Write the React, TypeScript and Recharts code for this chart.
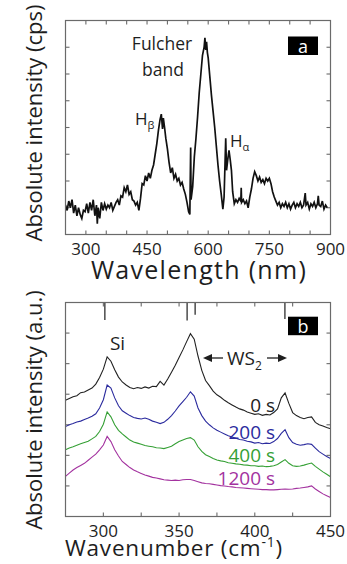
import { Line, LineChart, ReferenceLine, XAxis, YAxis } from "recharts";

// panel a: emission spectrum
const WAVELENGTH = [
  250, 254, 258, 262, 266, 270, 274, 278, 282, 286, 290, 294, 298, 302, 306, 310, 314, 318, 322, 326,
  328, 330, 334, 338, 342, 346, 350, 354, 358, 362, 366, 370, 374, 378, 382, 386, 390, 394, 398, 402,
  406, 410, 414, 418, 422, 426, 430, 434, 438, 442, 446, 450, 454, 458, 462, 466, 470, 474, 478, 482,
  485, 488, 490, 493, 496, 500, 504, 508, 512, 516, 520, 524, 528, 532, 536, 540, 544, 548, 552, 555,
  557, 558, 562, 566, 570, 574, 578, 582, 586, 590, 592, 594, 596, 598, 600, 604, 608, 612, 616, 620,
  624, 628, 632, 636, 639, 643, 645, 648, 651, 654, 657, 660, 664, 668, 672, 676, 680, 681, 682, 686,
  690, 694, 698, 702, 706, 710, 714, 718, 722, 726, 730, 734, 738, 742, 746, 750, 754, 758, 762, 766,
  770, 774, 778, 782, 786, 790, 794, 798, 802, 806, 810, 814, 818, 822, 826, 830, 834, 838, 840, 844,
  848, 852, 856, 860, 864, 868, 870, 872, 876, 880, 884, 888, 892,
];
const CPS = [
  1.1, 0.9, 1.25, 1.0, 1.3, 0.8, 1.1, 0.7, 1.0, 0.75, 0.6, 0.9, 0.85, 1.15, 0.8, 1.2, 0.9, 1.3, 0.7, 1.1,
  0.4, 1.0, 0.6, 1.2, 0.9, 1.15, 0.95, 1.1, 1.0, 1.2, 0.9, 1.05, 1.2, 1.3, 1.1, 1.45, 1.4, 1.75, 1.6, 1.85,
  1.5, 1.6, 1.3, 1.25, 1.1, 1.2, 0.9, 1.35, 1.9, 1.85, 2.2, 2.0, 2.3, 2.1, 2.4, 2.6, 3.0, 3.4, 3.9, 4.3,
  4.5, 3.95, 4.35, 4.0, 3.6, 3.2, 2.7, 2.3, 2.5, 2.1, 2.25, 2.0, 2.1, 1.85, 1.95, 1.7, 1.5, 1.2, 0.85, 0.75,
  3.25, 1.3, 1.8, 2.9, 3.6, 4.4, 5.3, 6.0, 6.7, 7.0, 7.35, 6.9, 7.2, 6.8, 6.6, 5.9, 5.2, 4.6, 4.0, 3.3,
  2.6, 2.0, 1.5, 0.95, 1.4, 3.6, 2.4, 2.8, 3.15, 2.8, 2.4, 1.6, 1.15, 1.3, 1.2, 1.35, 1.25, 1.75, 1.2, 1.3,
  1.15, 1.25, 1.0, 1.4, 1.7, 2.1, 2.35, 2.2, 2.0, 2.15, 1.95, 2.05, 1.9, 2.1, 2.0, 2.1, 1.9, 1.6, 1.4, 1.25,
  1.1, 1.2, 1.0, 1.15, 1.05, 1.2, 1.0, 1.15, 0.95, 1.1, 1.2, 1.0, 1.15, 1.05, 1.2, 1.0, 1.1, 1.55, 1.1, 1.2,
  0.95, 1.15, 1.05, 1.2, 1.0, 1.15, 1.45, 1.1, 1.05, 1.25, 0.95, 1.1, 1.0,
];
const WL_DOMAIN = [250, 900];
const WL_TICKS = [300, 350, 400, 450, 500, 550, 600, 650, 700, 750, 800, 850, 900];
const WL_LABELS = [300, 450, 600, 750, 900];
const CPS_DOMAIN = [0, 8];
const CPS_TICKS = [1, 2, 3, 4, 5, 6, 7];

// panel b: Raman spectra
const WAVENUMBER = [
  275, 277.5, 280, 282.5, 285, 287.5, 290, 292.5, 295, 297.5, 300, 302.5, 305, 307.5, 310, 312.5, 315, 317.5,
  320, 322.5, 325, 327.5, 330, 332.5, 335, 337.5, 340, 342.5, 345, 347.5, 350, 352.5, 355, 357.5, 360, 362.5,
  365, 367.5, 370, 372.5, 375, 377.5, 380, 382.5, 385, 387.5, 390, 392.5, 395, 397.5, 400, 402.5, 405, 407.5,
  410, 412.5, 415, 417.5, 420, 422.5, 425, 427.5, 430, 432.5, 435, 437.5, 440, 442.5, 445, 447.5, 450,
];
const RAMAN_0S = [
  3.8, 3.86, 3.92, 3.95, 4.05, 4.07, 4.14, 4.2, 4.33, 4.55, 4.82, 5.22, 5.08, 4.8, 4.56, 4.4, 4.3, 4.22,
  4.18, 4.22, 4.19, 4.24, 4.2, 4.26, 4.25, 4.42, 4.3, 4.5, 4.72, 4.95, 5.2, 5.45, 5.72, 5.98, 5.8, 5.25,
  4.78, 4.45, 4.28, 4.1, 3.98, 3.9, 3.8, 3.72, 3.65, 3.58, 3.52, 3.48, 3.42, 3.38, 3.34, 3.36, 3.31, 3.34,
  3.32, 3.4, 3.52, 3.88, 4.04, 3.7, 3.4, 3.3, 3.24, 3.2, 3.24, 3.26, 3.08, 3.0, 2.96, 2.91, 2.87,
];
const RAMAN_200S = [
  2.94, 3.0, 3.04, 3.09, 3.12, 3.17, 3.22, 3.28, 3.36, 3.55, 3.82, 4.3, 4.2, 3.88, 3.62, 3.46, 3.38, 3.3,
  3.24, 3.21, 3.19, 3.22, 3.18, 3.12, 3.08, 3.04, 3.08, 3.18, 3.3, 3.45, 3.62, 3.76, 3.9, 4.08, 3.94, 3.55,
  3.3, 3.12, 3.0, 2.9, 2.82, 2.76, 2.7, 2.64, 2.6, 2.56, 2.52, 2.5, 2.46, 2.44, 2.4, 2.42, 2.38, 2.4,
  2.39, 2.45, 2.55, 2.72, 2.84, 2.58, 2.42, 2.36, 2.33, 2.35, 2.38, 2.36, 2.24, 2.12, 2.04, 1.96, 1.9,
];
const RAMAN_400S = [
  2.18, 2.24, 2.28, 2.33, 2.38, 2.42, 2.46, 2.54, 2.62, 2.78, 3.02, 3.42, 3.26, 3.0, 2.82, 2.7, 2.6, 2.5,
  2.44, 2.4, 2.36, 2.32, 2.3, 2.28, 2.25, 2.24, 2.22, 2.26, 2.3, 2.38, 2.45, 2.5, 2.55, 2.58, 2.5, 2.28,
  2.13, 2.02, 1.96, 1.9, 1.85, 1.82, 1.8, 1.76, 1.74, 1.72, 1.71, 1.69, 1.68, 1.66, 1.66, 1.64, 1.65, 1.63,
  1.64, 1.66, 1.7, 1.78, 1.86, 1.74, 1.66, 1.64, 1.65, 1.68, 1.72, 1.75, 1.64, 1.55, 1.46, 1.38, 1.3,
];
const RAMAN_1200S = [
  1.31, 1.42, 1.52, 1.6, 1.67, 1.74, 1.84, 1.94, 2.04, 2.18, 2.34, 2.62, 2.45, 2.18, 1.98, 1.8, 1.7, 1.6,
  1.52, 1.46, 1.41, 1.36, 1.32, 1.28, 1.26, 1.23, 1.2, 1.19, 1.18, 1.19, 1.18, 1.2, 1.21, 1.21, 1.18, 1.14,
  1.1, 1.08, 1.07, 1.05, 1.03, 1.01, 1.0, 0.98, 0.97, 0.95, 0.94, 0.93, 0.92, 0.91, 0.9, 0.89, 0.88, 0.88,
  0.87, 0.87, 0.88, 0.89, 0.9, 0.89, 0.9, 0.92, 0.93, 0.95, 0.97, 1.0, 0.9, 0.82, 0.74, 0.68, 0.62,
];
const SERIES_LABELS = ["0 s", "200 s", "400 s", "1200 s"];
const SERIES_COLORS = ["#222222", "#2b2b9e", "#35a035", "#a3329f"];
const WN_DOMAIN = [275, 450];
const WN_TICKS = [300, 325, 350, 375, 400, 425, 450];
const WN_LABELS = [300, 350, 400, 450];
const RAMAN_DOMAIN = [0, 7];
const RAMAN_TICKS = [1, 2, 3, 4, 5, 6];
// reference peak markers hanging from the top frame
const MARKER_POS = [301, 355.3, 360.6, 419.9];
const MARKER_END = [6.43, 6.41, 6.6, 6.46];

const FONT = "'Open Sans', sans-serif";
const AXIS = "#6a6a6a";
const INK = "#1e1e1e";
const TICK_PX = 4;

const emission = WAVELENGTH.map((x, i) => ({ x, y: CPS[i] }));
const raman = WAVENUMBER.map((x, i) => ({
  x,
  s0: RAMAN_0S[i],
  s200: RAMAN_200S[i],
  s400: RAMAN_400S[i],
  s1200: RAMAN_1200S[i],
}));
const ramanKeys = ["s0", "s200", "s400", "s1200"];

const W = 347;
const H = 282;
// plot box of each panel (same for both): margins below keep it here
const PLOT = { left: 65.5, top: 20.5, w: 265, h: 214 };
const MARGIN = { top: PLOT.top, left: PLOT.left, right: W - PLOT.left - PLOT.w, bottom: H - PLOT.top - PLOT.h - 30 };

function makeTick(labels: number[]) {
  return (p: any) => {
    const v = p.payload.value;
    if (!labels.includes(v)) return <g />;
    return (
      <text x={p.x} y={p.y} dy="0.71em" textAnchor="middle" fontSize={17} fill={INK} fontFamily={FONT}>
        {v}
      </text>
    );
  };
}

// inward ticks on all four sides, drawn through the chart scales
function Ticks({ dx, dy, ticksX, ticksY }: any) {
  const tx = ((dx[1] - dx[0]) * TICK_PX) / PLOT.w;
  const ty = ((dy[1] - dy[0]) * TICK_PX) / PLOT.h;
  const s = { stroke: AXIS, strokeWidth: 1.1, ifOverflow: "visible" as const };
  const seg = (key: string, a: number[], b: number[]) => (
    <ReferenceLine key={key} segment={[{ x: a[0], y: a[1] }, { x: b[0], y: b[1] }]} {...s} />
  );
  const out: any[] = [];
  ticksY.forEach((t: number) => {
    out.push(seg("l" + t, [dx[0], t], [dx[0] + tx, t]));
    out.push(seg("r" + t, [dx[1], t], [dx[1] - tx, t]));
  });
  ticksX.forEach((t: number) => {
    out.push(seg("b" + t, [t, dy[0] + 0.001], [t, dy[0] + ty]));
    out.push(seg("t" + t, [t, dy[1] - 0.001], [t, dy[1] - ty]));
  });
  return out;
}

function Overlay() {
  const t = { fontFamily: FONT, fill: INK };
  return (
    <svg width={W} height={564} style={{ position: "absolute", left: 0, top: 0, pointerEvents: "none" }}>
      {/* plot frames */}
      <rect x={PLOT.left} y={PLOT.top} width={PLOT.w} height={PLOT.h} fill="none" stroke={AXIS} strokeWidth={1.2} />
      <rect x={PLOT.left} y={H + PLOT.top} width={PLOT.w} height={PLOT.h} fill="none" stroke={AXIS} strokeWidth={1.2} />

      {/* panel a */}
      <text {...t} fontSize={22} textAnchor="middle" dominantBaseline="central" transform="translate(33,123) rotate(-90)">
        Absolute intensity (cps)
      </text>
      <text {...t} fontSize={25} letterSpacing={1.3} x={199} y={279} textAnchor="middle">
        Wavelength (nm)
      </text>
      <text {...t} fontSize={17.5} x={162} y={50} textAnchor="middle">Fulcher</text>
      <text {...t} fontSize={17.5} x={163} y={76} textAnchor="middle">band</text>
      <text {...t} fontSize={17} x={135} y={125}>
        H<tspan fontSize={11} dy={4}>β</tspan>
      </text>
      <text {...t} fontSize={17} x={230} y={147}>
        H<tspan fontSize={11} dy={4}>α</tspan>
      </text>
      <rect x={288} y={36.5} width={30} height={18.5} fill="#000" />
      <text fontFamily={FONT} fill="#fff" fontSize={18} x={303} y={46} textAnchor="middle" dominantBaseline="central">a</text>

      {/* panel b */}
      <text {...t} fontSize={22} textAnchor="middle" dominantBaseline="central" transform="translate(33,410) rotate(-90)">
        Absolute intensity (a.u.)
      </text>
      <text {...t} fontSize={22.5} letterSpacing={0.8} x={174} y={556} textAnchor="middle">
        Wavenumber (cm<tspan fontSize={14} dy={-9}>-1</tspan><tspan dy={9}>)</tspan>
      </text>
      <text {...t} fontSize={19} x={117.5} y={350} textAnchor="middle">Si</text>
      <line x1={208} y1={358} x2={223} y2={358} stroke={INK} strokeWidth={1.3} />
      <polygon points="203,358 212,354 212,362" fill={INK} />
      <line x1={267} y1={358} x2={282} y2={358} stroke={INK} strokeWidth={1.3} />
      <polygon points="287,358 278,354 278,362" fill={INK} />
      <text {...t} fontSize={19} x={227} y={365}>
        WS<tspan fontSize={12} dy={5}>2</tspan>
      </text>
      {SERIES_LABELS.map((s, i) => (
        <text key={s} fontFamily={FONT} fill={SERIES_COLORS[i]} fontSize={19} x={275} y={[411.7, 439, 461.7, 485][i]} textAnchor="end">
          {s}
        </text>
      ))}
      <rect x={288} y={316.7} width={30} height={18.5} fill="#000" />
      <text fontFamily={FONT} fill="#fff" fontSize={18} x={303} y={326} textAnchor="middle" dominantBaseline="central">b</text>
    </svg>
  );
}

const bottomAxis = (domain: number[], ticks: number[], labels: number[]) => (
  <XAxis
    dataKey="x"
    type="number"
    domain={domain}
    ticks={ticks}
    interval={0}
    allowDataOverflow
    axisLine={false}
    tickLine={false}
    tickSize={0}
    tickMargin={8}
    height={30}
    tick={makeTick(labels)}
  />
);

export default function App() {
  return (
    <div style={{ position: "absolute", left: 0, top: 0, width: W, height: 564, background: "#fff" }}>
      <LineChart width={W} height={H} data={emission} margin={MARGIN}>
        {bottomAxis(WL_DOMAIN, WL_TICKS, WL_LABELS)}
        <YAxis hide type="number" domain={CPS_DOMAIN} allowDataOverflow />
        {Ticks({ dx: WL_DOMAIN, dy: CPS_DOMAIN, ticksX: WL_TICKS.slice(0, -1), ticksY: CPS_TICKS })}
        <Line dataKey="y" stroke="#111" strokeWidth={1.7} dot={false} isAnimationActive={false} />
      </LineChart>
      <LineChart width={W} height={H} data={raman} margin={MARGIN}>
        {bottomAxis(WN_DOMAIN, WN_TICKS, WN_LABELS)}
        <YAxis hide type="number" domain={RAMAN_DOMAIN} allowDataOverflow />
        {Ticks({ dx: WN_DOMAIN, dy: RAMAN_DOMAIN, ticksX: WN_TICKS.slice(0, -1), ticksY: RAMAN_TICKS })}
        {ramanKeys.map((k, i) => (
          <Line key={k} dataKey={k} stroke={SERIES_COLORS[i]} strokeWidth={1.1} dot={false} isAnimationActive={false} />
        ))}
        {MARKER_POS.map((m, i) => (
          <ReferenceLine
            key={m}
            segment={[{ x: m, y: RAMAN_DOMAIN[1] }, { x: m, y: MARKER_END[i] }]}
            stroke={INK}
            strokeWidth={1.2}
            ifOverflow="visible"
          />
        ))}
      </LineChart>
      <Overlay />
    </div>
  );
}
